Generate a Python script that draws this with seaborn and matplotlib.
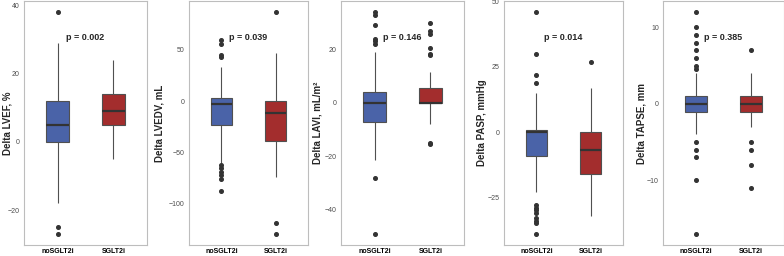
import numpy as np
import pandas as pd
import matplotlib
matplotlib.use('Agg')
import matplotlib.pyplot as plt
import matplotlib.transforms as mtransforms
import seaborn as sns

groups = ['noSGLT2i', 'SGLT2i']
colors = ['#4A63A8', '#A32D2D']

# per-patient deltas (boxes, whiskers and outliers)
lvef_no = [-27, -25, -18, 0, 0, 0, 5, 5, 5, 12, 12, 12, 29, 38]
lvef_sg = [-5, 5, 5, 9, 9, 14, 14, 24]

lvedv_no = [-88, -76, -72, -69, -66, -63, -61,
            -23, -23, -23, -23, -23, -23, -3, -3, -3, -3, -3, -3,
            3, 3, 3, 3, 3, 3, 33, 43, 45, 56, 60]
lvedv_sg = [-130, -119, -74, -39, -39, -39, -12, -12, -12, 0, 0, 0, 47, 87]

lavi_no = [-49, -28, -21.5, -7, -7, -7, -7, -7, -7, -7, 0, 0, 0, 0, 0, 0, 0,
           4, 4, 4, 4, 4, 4, 4, 19, 22, 23, 24, 29, 33, 34]
lavi_sg = [-15.5, -15, -8, 0, 0, 0, 0, 0, 0, 0, 0, 0, 0, 0, 0, 0, 0,
           5.5, 5.5, 5.5, 5.5, 5.5, 5.5, 5.5, 11.5, 17.8, 18.5, 20.4, 25.8, 27, 30]

pasp_no = [-39, -35, -34, -33, -31, -30, -29, -28, -23,
           -9, -9, -9, -9, -9, -9, -9, -9, 0, 0, 0, 0, 0, 0, 0, 0,
           1, 1, 1, 1, 1, 1, 1, 1, 15, 19, 22, 30, 46]
pasp_sg = [-32, -16, -16, -16, -7, -7, -7, 0, 0, 0, 17, 27]

tapse_no = [-17, -10, -7, -6, -5, -4,
            -1, -1, -1, -1, -1, -1, -1, -1, 0, 0, 0, 0, 0, 0, 0, 0,
            1, 1, 1, 1, 1, 1, 1, 1, 4, 4.5, 5, 6, 7, 8, 9, 10, 12]
tapse_sg = [-11, -8, -6, -5, -3, -1, -1, -1, -1, -1, 0, 0, 0, 0, 0,
            1, 1, 1, 1, 1, 4, 7]

ylabels = ['Delta LVEF, %', 'Delta LVEDV, mL', 'Delta LAVI, mL/m²',
           'Delta PASP, mmHg', 'Delta TAPSE, mm']
pvalues = ['0.002', '0.039', '0.146', '0.014', '0.385']
yticks = [[-20, 0, 20, 40], [-100, -50, 0, 50], [-40, -20, 0, 20],
          [-25, 0, 25, 50], [-10, 0, 10]]

panels = [(lvef_no, lvef_sg), (lvedv_no, lvedv_sg), (lavi_no, lavi_sg),
          (pasp_no, pasp_sg), (tapse_no, tapse_sg)]

# axes boxes in pixels (left, width) on a 784x256 canvas, and where the
# y label sits (pixels left of the axes)
boxes = [(24, 123), (189, 119), (341, 123), (504, 119), (663, 121)]
label_off = [16, 29, 23, 22, 22]


def make_df(no, sg):
    return pd.DataFrame({'group': [groups[0]] * len(no) + [groups[1]] * len(sg),
                         'value': list(no) + list(sg)})


def draw_panel(ax, df, ylabel, p, ticks, width, off):
    sns.boxplot(data=df, x='group', y='value', hue='group', order=groups,
                hue_order=groups, palette=colors, saturation=1, width=0.4,
                linecolor='#505050', linewidth=0.8, showcaps=False,
                legend=False, ax=ax,
                medianprops=dict(color='#333333', linewidth=1.6),
                flierprops=dict(marker='o', markersize=2.6,
                                markerfacecolor='#333333',
                                markeredgecolor='#333333'))
    vals = df['value']
    span = vals.max() - vals.min()
    ax.set_ylim(vals.min() - 0.05 * span, vals.max() + 0.05 * span)
    ax.set_xlim(-0.6, 1.6)
    ax.set_yticks(ticks)
    ax.set_xlabel('')
    ax.set_ylabel(ylabel, fontsize=7, fontweight='bold', va='center')
    ax.yaxis.set_label_coords(-off / width, 0.5)
    for s in ax.spines.values():
        s.set_color('#BDBDBD')
        s.set_linewidth(0.8)
    ax.tick_params(axis='both', length=2, width=0.5, color='#777777', pad=1)
    ax.tick_params(axis='y', labelsize=5, labelcolor='#4D4D4D')
    ax.tick_params(axis='x', labelsize=5, labelcolor='black', length=1.5)
    for lab in ax.get_xticklabels():
        lab.set_fontweight('bold')
    trans = mtransforms.blended_transform_factory(ax.transData, ax.transAxes)
    ax.text(0.5, 0.85, f'p = {p}', transform=trans, ha='center', va='center',
            fontsize=6.5, fontweight='bold')


sns.set_style('white')
plt.rcParams['font.family'] = ['Liberation Sans', 'DejaVu Sans']

fig = plt.figure(figsize=(7.84, 2.56), dpi=100)
for i, (no, sg) in enumerate(panels):
    left, width = boxes[i]
    ax = fig.add_axes([left / 784, 11 / 256, width / 784, 244 / 256])
    draw_panel(ax, make_df(no, sg), ylabels[i], pvalues[i], yticks[i],
               width, label_off[i])

fig.savefig('out.png', dpi=100)
